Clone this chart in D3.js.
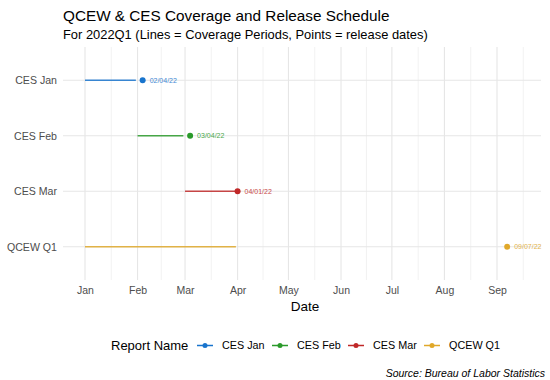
<!DOCTYPE html>
<html><head><meta charset="utf-8">
<script src="https://cdn.jsdelivr.net/npm/d3@7"></script>
<style>
body{margin:0;background:#fff;}
svg{font-family:"Liberation Sans",Arial,sans-serif;}
</style></head>
<body>
<svg id="chart" width="550" height="380"></svg>
<script>
const reports = ["CES Jan", "CES Feb", "CES Mar", "QCEW Q1"];
const coverageStart = ["2022-01-01", "2022-02-01", "2022-03-01", "2022-01-01"];
const coverageEnd = ["2022-01-31", "2022-02-28", "2022-03-31", "2022-03-31"];
const releaseDates = ["2022-02-04", "2022-03-04", "2022-04-01", "2022-09-07"];
const releaseLabels = ["02/04/22", "03/04/22", "04/01/22", "09/07/22"];
const colors = ["#1874CD", "#2A9A2A", "#C02828", "#E0A82A"];
const monthTicks = ["2022-01-01","2022-02-01","2022-03-01","2022-04-01","2022-05-01","2022-06-01","2022-07-01","2022-08-01","2022-09-01"];
const monthTickLabels = ["Jan","Feb","Mar","Apr","May","Jun","Jul","Aug","Sep"];

const parse = d3.utcParse("%Y-%m-%d");
const svg = d3.select("#chart");
const panel = {left: 63, right: 541, top: 47, bottom: 280};

const x = d3.scaleUtc()
  .domain([parse(monthTicks[0]), parse(monthTicks[8])])
  .range([85, 497]);
const y = d3.scalePoint()
  .domain(reports)
  .range([panel.top, panel.bottom])
  .padding(0.6);

const majors = monthTicks.map(parse);
const minors = [];
for (let i = 0; i < majors.length; i++) {
  const a = majors[i];
  const b = i < majors.length - 1 ? majors[i+1] : new Date(+a + (+a - +majors[i-1]));
  minors.push(new Date((+a + +b) / 2));
}

const grid = svg.append("g");
grid.selectAll(".minor").data(minors).join("line")
  .attr("x1", d => x(d)).attr("x2", d => x(d))
  .attr("y1", panel.top).attr("y2", panel.bottom)
  .attr("stroke", "#efefef").attr("stroke-width", 0.8);
grid.selectAll(".major").data(majors).join("line")
  .attr("x1", d => x(d)).attr("x2", d => x(d))
  .attr("y1", panel.top).attr("y2", panel.bottom)
  .attr("stroke", "#e6e6e6").attr("stroke-width", 1.1);
grid.selectAll(".hmaj").data(reports).join("line")
  .attr("x1", panel.left).attr("x2", panel.right)
  .attr("y1", d => y(d)).attr("y2", d => y(d))
  .attr("stroke", "#e6e6e6").attr("stroke-width", 1.1);

// x axis
const xAxis = d3.axisBottom(x).tickValues(majors)
  .tickFormat((d, i) => monthTickLabels[i]).tickSize(0).tickPadding(0);
const gx = svg.append("g").attr("transform", `translate(0,${panel.bottom + 7})`).call(xAxis);
gx.select(".domain").remove();
gx.selectAll("text").attr("fill", "#4d4d4d").attr("font-size", 10.5)
  .attr("font-family", "Liberation Sans, Arial, sans-serif").attr("dy", "0.71em");

// y axis
const yAxis = d3.axisLeft(y).tickSize(0).tickPadding(0);
const gy = svg.append("g").attr("transform", `translate(${panel.left - 6},0)`).call(yAxis);
gy.select(".domain").remove();
gy.selectAll("text").attr("fill", "#4d4d4d").attr("font-size", 10.6)
  .attr("font-family", "Liberation Sans, Arial, sans-serif");

// data
const rows = reports.map((r, i) => ({
  report: r, start: parse(coverageStart[i]), end: parse(coverageEnd[i]),
  release: parse(releaseDates[i]), label: releaseLabels[i], color: colors[i]
}));
svg.append("g").selectAll("line").data(rows).join("line")
  .attr("x1", d => x(d.start)).attr("x2", d => x(d.end))
  .attr("y1", d => y(d.report)).attr("y2", d => y(d.report))
  .attr("stroke", d => d.color).attr("stroke-width", 1.5).attr("opacity", 0.85);
svg.append("g").selectAll("circle").data(rows).join("circle")
  .attr("cx", d => x(d.release)).attr("cy", d => y(d.report)).attr("r", 3)
  .attr("fill", d => d.color);
svg.append("g").selectAll("text").data(rows).join("text")
  .attr("x", d => x(d.release) + 7).attr("y", d => y(d.report))
  .attr("dy", "0.35em").attr("font-size", 7).attr("fill", d => d.color)
  .attr("opacity", 0.85).text(d => d.label);

// titles
svg.append("text").attr("x", 63).attr("y", 21).attr("font-size", 15.3)
  .attr("fill", "#000").text("QCEW & CES Coverage and Release Schedule");
svg.append("text").attr("x", 63).attr("y", 38.5).attr("font-size", 12.9)
  .attr("fill", "#000").text("For 2022Q1 (Lines = Coverage Periods, Points = release dates)");
svg.append("text").attr("x", 305).attr("y", 311).attr("text-anchor", "middle")
  .attr("font-size", 13.5).attr("fill", "#000").text("Date");

// legend
const lg = svg.append("g");
lg.append("text").attr("x", 111).attr("y", 345.5).attr("dy", "0.35em")
  .attr("font-size", 13).attr("fill", "#000").text("Report Name");
const keyX = [197, 272, 348, 424];
rows.forEach((d, i) => {
  lg.append("line").attr("x1", keyX[i]).attr("x2", keyX[i] + 16)
    .attr("y1", 345.5).attr("y2", 345.5).attr("stroke", d.color).attr("stroke-width", 1.5);
  lg.append("circle").attr("cx", keyX[i] + 8).attr("cy", 345.5).attr("r", 2.5).attr("fill", d.color);
  lg.append("text").attr("x", keyX[i] + 25).attr("y", 345.5).attr("dy", "0.35em")
    .attr("font-size", 10.8).attr("fill", "#000").text(d.report);
});

svg.append("text").attr("x", 545).attr("y", 377).attr("text-anchor", "end")
  .attr("font-size", 10.5).attr("font-style", "italic").attr("fill", "#000")
  .text("Source: Bureau of Labor Statistics");
</script>
</body></html>
